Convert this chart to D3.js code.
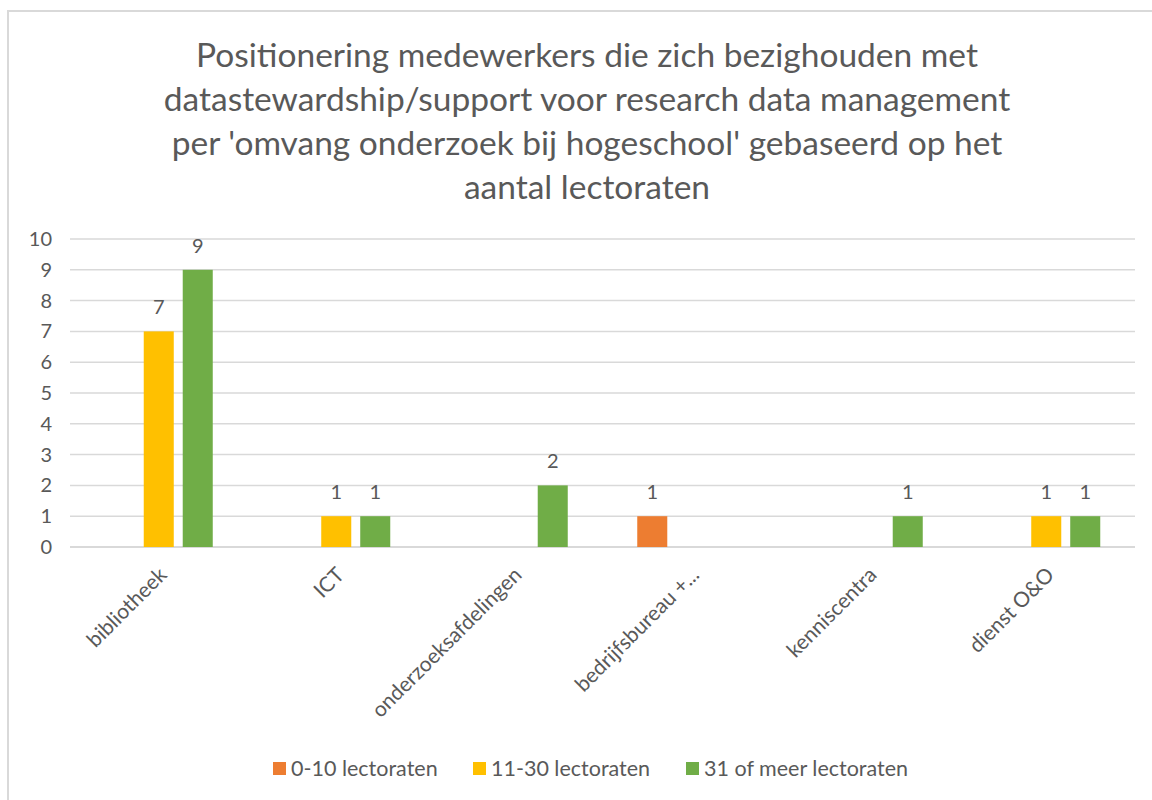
<!DOCTYPE html>
<html>
<head>
<meta charset="utf-8">
<script src="https://cdn.jsdelivr.net/npm/d3@7"></script>
<style>
  body { margin: 0; background: #fff; }
  svg { display: block; font-family: Lato, "Open Sans", sans-serif; }
</style>
</head>
<body>
<div id="chart"></div>
<script>
// data
const categories = ["bibliotheek", "ICT", "onderzoeksafdelingen", "bedrijfsbureau +...", "kenniscentra", "dienst O&O"];
const seriesNames = ["0-10 lectoraten", "11-30 lectoraten", "31 of meer lectoraten"];
const small = [0, 0, 0, 1, 0, 0];   // 0-10
const medium = [7, 1, 0, 0, 0, 1];  // 11-30
const large = [9, 1, 2, 0, 1, 1];   // 31+
const yTicks = [0, 1, 2, 3, 4, 5, 6, 7, 8, 9, 10];
const titleLines = [
    "Positionering medewerkers die zich bezighouden met",
    "datastewardship/support voor research data management",
    "per 'omvang onderzoek bij hogeschool' gebaseerd op het",
    "aantal lectoraten"
];

const colors = ["#ED7D31", "#FFC000", "#70AD47"];
const textColor = "#595959";

const W = 1152, H = 800;
const margin = { left: 70, right: 17, top: 239, bottom: 253 };

let svg = d3.select("#chart").append("svg")
    .attr("width", W)
    .attr("height", H);

// chart frame
svg.append("rect")
    .attr("x", 8).attr("y", 11)
    .attr("width", W).attr("height", H)
    .attr("fill", "#fff")
    .attr("stroke", "#d9d9d9")
    .attr("stroke-width", 2);

// title
svg.append("g").selectAll("text")
    .data(titleLines)
    .enter().append("text")
    .attr("x", 587)
    .attr("y", (d, i) => 67 + i * 44)
    .attr("text-anchor", "middle")
    .attr("fill", textColor)
    .style("font-size", "33.5px")
    .text(d => d);

let x0 = d3.scaleBand()
    .domain(categories)
    .range([margin.left, W - margin.right]);

let x1 = d3.scaleBand()
    .domain(d3.range(seriesNames.length))
    .range([x0.bandwidth() / 2 - 54, x0.bandwidth() / 2 + 54])
    .paddingInner(0.23);

let y = d3.scaleLinear()
    .domain([0, 10])
    .range([H - margin.bottom, margin.top]);

// gridlines
svg.append("g").selectAll("line")
    .data(yTicks)
    .enter().append("line")
    .attr("x1", margin.left).attr("x2", W - margin.right)
    .attr("y1", d => y(d)).attr("y2", d => y(d))
    .attr("stroke", "#d9d9d9")
    .attr("stroke-width", d => d === 0 ? 2 : 1.5);

// y tick labels
svg.append("g").selectAll("text")
    .data(yTicks)
    .enter().append("text")
    .attr("x", 52)
    .attr("y", d => y(d))
    .attr("dy", "0.35em")
    .attr("text-anchor", "end")
    .attr("fill", textColor)
    .style("font-size", "20px")
    .text(d => d);

const seriesValues = [small, medium, large];
let rows = [];
seriesValues.forEach((vals, s) => {
    vals.forEach((v, i) => {
        if (v > 0) rows.push({ cat: categories[i], s: s, v: v });
    });
});

let bars = svg.append("g");
bars.selectAll("rect")
    .data(rows)
    .enter().append("rect")
    .attr("x", d => x0(d.cat) + x1(d.s))
    .attr("width", x1.bandwidth())
    .attr("y", d => y(d.v))
    .attr("height", d => y(0) - y(d.v))
    .attr("fill", d => colors[d.s]);

bars.selectAll("text")
    .data(rows)
    .enter().append("text")
    .attr("x", d => x0(d.cat) + x1(d.s) + x1.bandwidth() / 2)
    .attr("y", d => y(d.v) - 17)
    .attr("text-anchor", "middle")
    .attr("fill", textColor)
    .style("font-size", "20px")
    .text(d => d.v);

// category labels, rotated
svg.append("g").selectAll("text")
    .data(categories)
    .enter().append("text")
    .attr("transform", d => `translate(${x0(d) + x0.bandwidth() / 2 + 4},${y(0) + 24})rotate(-45)`)
    .attr("text-anchor", "end")
    .attr("dy", "0.35em")
    .attr("fill", textColor)
    .style("font-size", "21px")
    .text(d => d);

// legend
const legendX = [273, 473, 686];
let legend = svg.append("g").selectAll("g")
    .data(seriesNames)
    .enter().append("g")
    .attr("transform", (d, i) => `translate(${legendX[i]},768)`);

legend.append("rect")
    .attr("x", 0).attr("y", -6)
    .attr("width", 13).attr("height", 13)
    .attr("fill", (d, i) => colors[i]);

legend.append("text")
    .attr("x", 18)
    .attr("dy", "0.35em")
    .attr("fill", textColor)
    .style("font-size", "21.5px")
    .text(d => d);
</script>
</body>
</html>
